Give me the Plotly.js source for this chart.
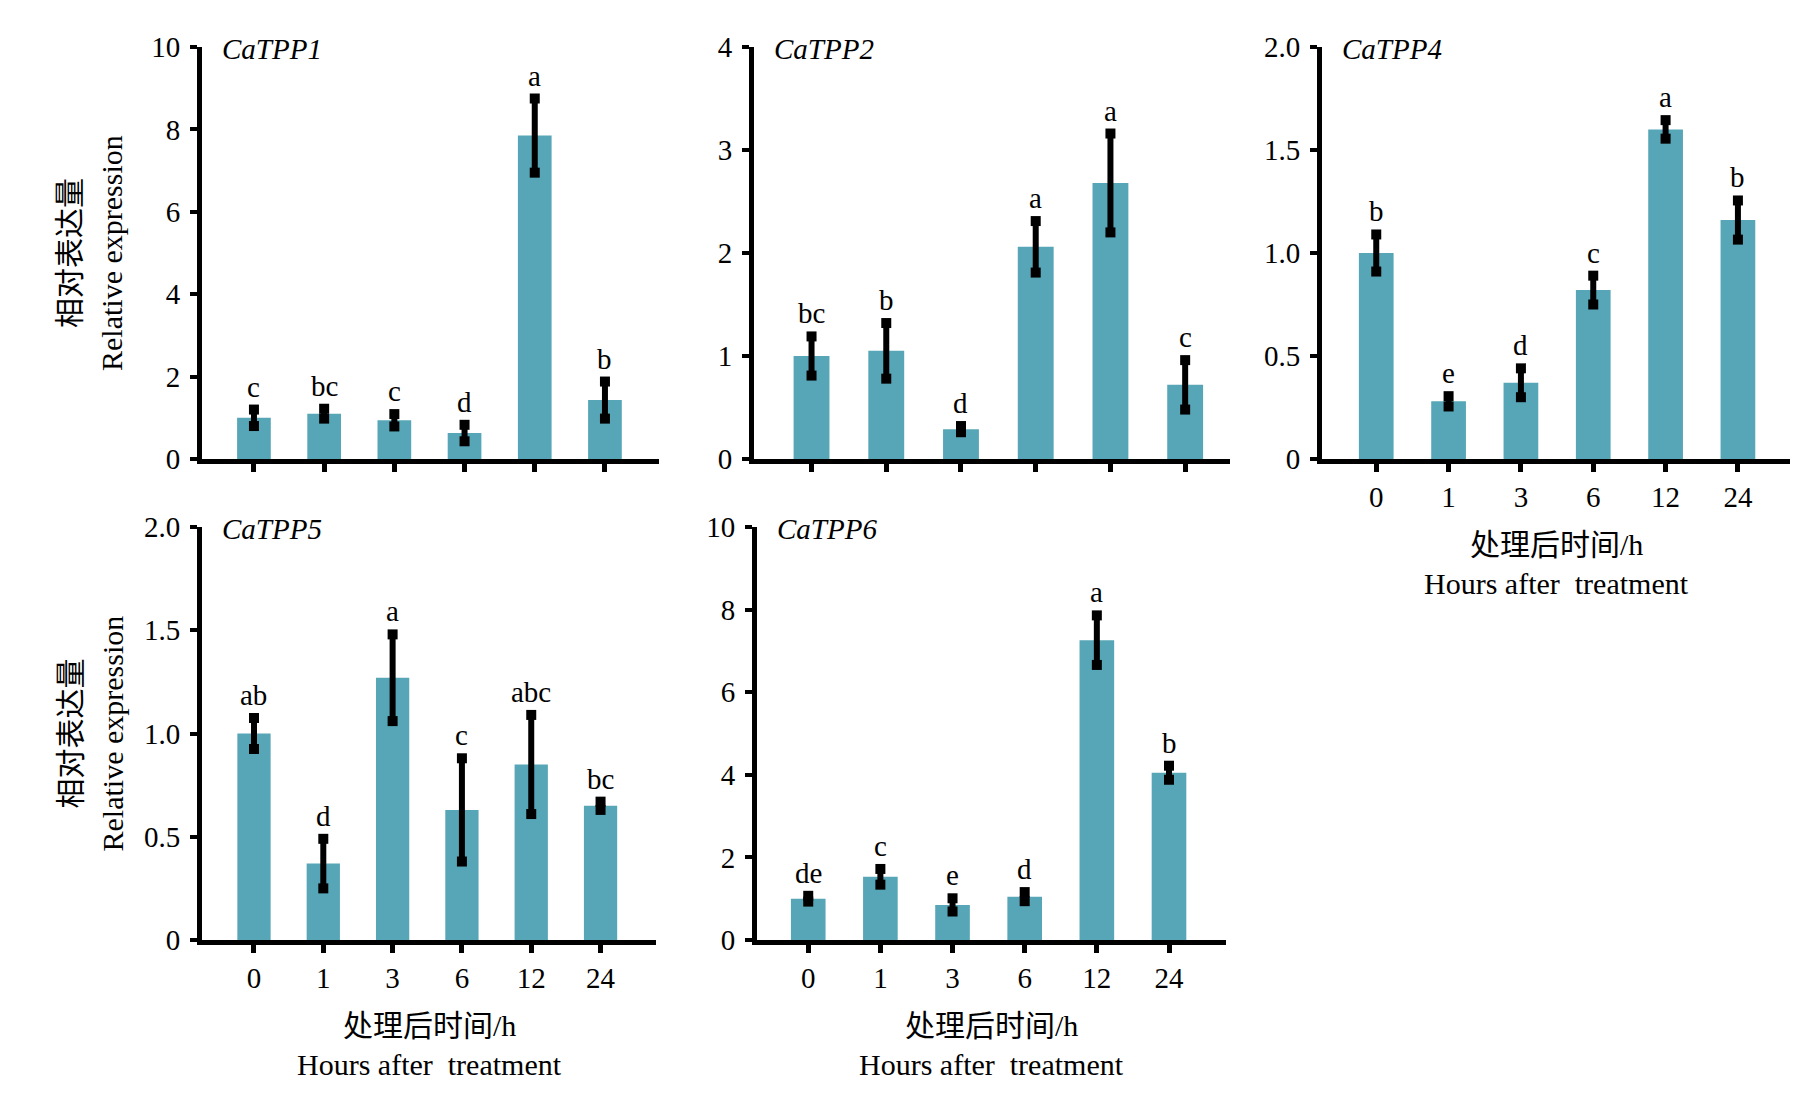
<!DOCTYPE html>
<html>
<head>
<meta charset="utf-8">
<script src="https://cdn.plot.ly/plotly-3.0.1.min.js"></script>
<style>
  html, body { margin: 0; padding: 0; background: #fff; }
  #chart { width: 1812px; height: 1100px; }
</style>
</head>
<body>
<div id="chart"></div>
<script>
// ---------- data ----------
const hours = ['0', '1', '3', '6', '12', '24'];

const tpp1Mean = [1.00, 1.10, 0.94, 0.63, 7.85, 1.43];
const tpp1Err  = [0.20, 0.12, 0.15, 0.20, 0.90, 0.45];
const tpp1Sig  = ['c', 'bc', 'c', 'd', 'a', 'b'];

const tpp2Mean = [1.00, 1.05, 0.29, 2.06, 2.68, 0.72];
const tpp2Err  = [0.19, 0.27, 0.03, 0.25, 0.48, 0.24];
const tpp2Sig  = ['bc', 'b', 'd', 'a', 'a', 'c'];

const tpp4Mean = [1.00, 0.28, 0.37, 0.82, 1.60, 1.16];
const tpp4Err  = [0.09, 0.025, 0.07, 0.07, 0.045, 0.095];
const tpp4Sig  = ['b', 'e', 'd', 'c', 'a', 'b'];

const tpp5Mean = [1.00, 0.37, 1.27, 0.63, 0.85, 0.65];
const tpp5Err  = [0.075, 0.12, 0.21, 0.25, 0.24, 0.02];
const tpp5Sig  = ['ab', 'd', 'a', 'c', 'abc', 'bc'];

const tpp6Mean = [1.00, 1.53, 0.85, 1.05, 7.26, 4.05];
const tpp6Err  = [0.07, 0.19, 0.16, 0.11, 0.60, 0.17];
const tpp6Sig  = ['de', 'c', 'e', 'd', 'a', 'b'];

const geneNames = ['CaTPP1', 'CaTPP2', 'CaTPP4', 'CaTPP5', 'CaTPP6'];

const yTicks1 = [0, 2, 4, 6, 8, 10];
const yTicks2 = [0, 1, 2, 3, 4];
const yTicksHalf = [0, 0.5, 1.0, 1.5, 2.0];
const yTickTextHalf = ['0', '0.5', '1.0', '1.5', '2.0'];

const yTitleCn = '相对表达量';
const yTitleEn = 'Relative expression';
const xTitleCn = '处理后时间/h';
const xTitleEn = 'Hours after\u00a0 treatment';

// ---------- style ----------
const W = 1812, H = 1100;
const SERIF = '"Liberation Serif", "Times New Roman", "Noto Sans CJK SC", serif';
const BAR = '#57a6b7';

const panels = [
  {mean: tpp1Mean, err: tpp1Err, sig: tpp1Sig, name: geneNames[0], px: [202, 659], py: [47, 459], xr: [-0.74, 5.77], yr: [0, 10], yt: yTicks1, ytt: yTicks1.map(String), xlab: false, ytitle: true},
  {mean: tpp2Mean, err: tpp2Err, sig: tpp2Sig, name: geneNames[1], px: [754, 1230], py: [47, 459], xr: [-0.77, 5.6], yr: [0, 4], yt: yTicks2, ytt: yTicks2.map(String), xlab: false, ytitle: false},
  {mean: tpp4Mean, err: tpp4Err, sig: tpp4Sig, name: geneNames[2], px: [1322, 1790], py: [47, 459], xr: [-0.75, 5.72], yr: [0, 2], yt: yTicksHalf, ytt: yTickTextHalf, xlab: true, ytitle: false},
  {mean: tpp5Mean, err: tpp5Err, sig: tpp5Sig, name: geneNames[3], px: [202, 656], py: [527, 940], xr: [-0.75, 5.8], yr: [0, 2], yt: yTicksHalf, ytt: yTickTextHalf, xlab: true, ytitle: true},
  {mean: tpp6Mean, err: tpp6Err, sig: tpp6Sig, name: geneNames[4], px: [757, 1226], py: [527, 940], xr: [-0.71, 5.79], yr: [0, 10], yt: yTicks1, ytt: yTicks1.map(String), xlab: true, ytitle: false}
];

const traces = [];
const annotations = [];
const layout = {
  width: W, height: H,
  margin: {l: 0, r: 0, t: 0, b: 0},
  paper_bgcolor: '#fff', plot_bgcolor: '#fff',
  showlegend: false,
  font: {family: SERIF, color: '#000', size: 29},
  annotations: annotations
};

const idx = hours.map((h, i) => i);

panels.forEach((p, k) => {
  const n = k === 0 ? '' : String(k + 1);
  const xid = 'x' + n, yid = 'y' + n;
  const xdom = [p.px[0] / W, p.px[1] / W];
  const ydom = [1 - p.py[1] / H, 1 - p.py[0] / H];

  layout['xaxis' + n] = {
    domain: xdom, range: p.xr, anchor: yid,
    tickmode: 'array', tickvals: idx, ticktext: hours,
    showticklabels: p.xlab,
    ticks: 'outside', ticklen: 8, tickwidth: 5, tickcolor: '#000',
    showline: true, linewidth: 5, linecolor: '#000',
    showgrid: false, zeroline: false, fixedrange: true,
    tickfont: {family: SERIF, size: 29, color: '#000'},
    ticklabelstandoff: 0
  };
  layout['yaxis' + n] = {
    domain: ydom, range: p.yr, anchor: xid,
    tickmode: 'array', tickvals: p.yt, ticktext: p.ytt,
    ticks: 'outside', ticklen: 7, tickwidth: 4, tickcolor: '#000',
    showline: true, linewidth: 5, linecolor: '#000',
    showgrid: false, zeroline: false, fixedrange: true,
    tickfont: {family: SERIF, size: 29, color: '#000'},
    ticklabelstandoff: 4
  };

  // bars with error bars
  traces.push({
    type: 'bar', x: idx, y: p.mean, xaxis: xid, yaxis: yid,
    width: 0.48,
    marker: {color: BAR, line: {width: 0}},
    error_y: {type: 'data', array: p.err, visible: true, color: '#000', thickness: 6, width: 0},
    hoverinfo: 'skip'
  });
  // square caps at the ends of the error bars
  traces.push({
    type: 'scatter', mode: 'markers', xaxis: xid, yaxis: yid,
    x: idx.concat(idx),
    y: p.mean.map((m, i) => m + p.err[i]).concat(p.mean.map((m, i) => m - p.err[i])),
    marker: {symbol: 'square', size: 10, color: '#000', line: {width: 0}},
    hoverinfo: 'skip'
  });

  // significance letters
  p.sig.forEach((s, i) => {
    annotations.push({
      xref: xid, yref: yid, x: i, y: p.mean[i] + p.err[i],
      text: s, showarrow: false, xanchor: 'center', yanchor: 'bottom', yshift: 5,
      font: {family: SERIF, size: 29, color: '#000'}
    });
  });

  // gene name
  annotations.push({
    xref: xid + ' domain', yref: yid + ' domain', x: 0, y: 1,
    xshift: 18, yshift: -2, xanchor: 'left', yanchor: 'middle',
    text: '<i>' + p.name + '</i>', showarrow: false,
    font: {family: SERIF, size: 29, color: '#000'}
  });

  // x-axis titles
  if (p.xlab) {
    const cx = (p.px[0] + p.px[1]) / 2 / W;
    annotations.push({
      xref: 'paper', yref: 'paper', x: cx, y: 1 - (p.py[1] + 85) / H,
      xanchor: 'center', yanchor: 'middle', text: xTitleCn, showarrow: false,
      font: {family: SERIF, size: 30, color: '#000'}
    });
    annotations.push({
      xref: 'paper', yref: 'paper', x: cx, y: 1 - (p.py[1] + 124) / H,
      xanchor: 'center', yanchor: 'middle', text: xTitleEn, showarrow: false,
      font: {family: SERIF, size: 30, color: '#000'}
    });
  }
  // y-axis titles
  if (p.ytitle) {
    const cy = 1 - (p.py[0] + p.py[1]) / 2 / H;
    annotations.push({
      xref: 'paper', yref: 'paper', x: 70 / W, y: cy,
      xanchor: 'center', yanchor: 'middle', textangle: -90, text: yTitleCn, showarrow: false,
      font: {family: SERIF, size: 30, color: '#000'}
    });
    annotations.push({
      xref: 'paper', yref: 'paper', x: 112 / W, y: cy,
      xanchor: 'center', yanchor: 'middle', textangle: -90, text: yTitleEn, showarrow: false,
      font: {family: SERIF, size: 30, color: '#000'}
    });
  }
});

Plotly.newPlot('chart', traces, layout, {staticPlot: true, displayModeBar: false});
</script>
</body>
</html>
